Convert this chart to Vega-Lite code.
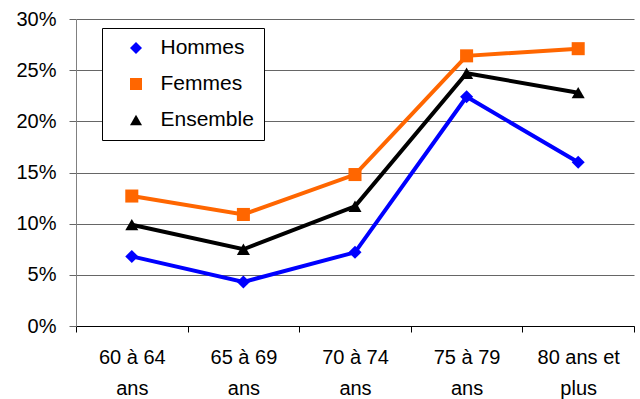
{
  "$schema": "https://vega.github.io/schema/vega-lite/v6.json",
  "width": 558,
  "height": 307,
  "autosize": {"type": "none"},
  "padding": {"left": 76, "top": 19, "right": 6, "bottom": 73},
  "background": "white",
  "config": {
    "view": {"stroke": null},
    "font": "Liberation Sans"
  },
  "data": {
    "values": [
      {"age": "60 à 64 ans", "serie": "Hommes", "taux": 0.068},
      {"age": "65 à 69 ans", "serie": "Hommes", "taux": 0.043},
      {"age": "70 à 74 ans", "serie": "Hommes", "taux": 0.072},
      {"age": "75 à 79 ans", "serie": "Hommes", "taux": 0.224},
      {"age": "80 ans et plus", "serie": "Hommes", "taux": 0.160},
      {"age": "60 à 64 ans", "serie": "Femmes", "taux": 0.127},
      {"age": "65 à 69 ans", "serie": "Femmes", "taux": 0.109},
      {"age": "70 à 74 ans", "serie": "Femmes", "taux": 0.148},
      {"age": "75 à 79 ans", "serie": "Femmes", "taux": 0.264},
      {"age": "80 ans et plus", "serie": "Femmes", "taux": 0.271},
      {"age": "60 à 64 ans", "serie": "Ensemble", "taux": 0.099},
      {"age": "65 à 69 ans", "serie": "Ensemble", "taux": 0.075},
      {"age": "70 à 74 ans", "serie": "Ensemble", "taux": 0.117},
      {"age": "75 à 79 ans", "serie": "Ensemble", "taux": 0.247},
      {"age": "80 ans et plus", "serie": "Ensemble", "taux": 0.228}
    ]
  },
  "encoding": {
    "x": {
      "field": "age",
      "type": "nominal",
      "sort": ["60 à 64 ans", "65 à 69 ans", "70 à 74 ans", "75 à 79 ans", "80 ans et plus"],
      "scale": {"type": "band", "paddingInner": 0, "paddingOuter": 0},
      "axis": {
        "title": null,
        "labelAngle": 0,
        "labelFontSize": 20,
        "labelColor": "black",
        "labelExpr": "isString(datum.value) ? (datum.value == '80 ans et plus' ? ['80 ans et', 'plus'] : [substring(datum.value, 0, 7), 'ans']) : ''",
        "labelLineHeight": 31,
        "labelBaseline": "top",
        "labelPadding": 15,
        "tickBand": "extent",
        "tickSize": 6,
        "tickColor": "black",
        "domainColor": "black",
        "grid": false
      }
    },
    "y": {
      "field": "taux",
      "type": "quantitative",
      "scale": {"domain": [0, 0.3], "nice": false},
      "axis": {
        "title": null,
        "values": [0, 0.05, 0.1, 0.15, 0.2, 0.25, 0.3],
        "format": ".0%",
        "labelFontSize": 20,
        "labelColor": "black",
        "labelPadding": 13,
        "tickSize": 7,
        "tickColor": "#666666",
        "domainColor": "#808080",
        "grid": true,
        "gridColor": "#666666",
        "gridOpacity": 1
      }
    },
    "color": {
      "field": "serie",
      "type": "nominal",
      "scale": {"domain": ["Hommes", "Femmes", "Ensemble"], "range": ["#0000FF", "#FF6600", "#000000"]},
      "legend": {
        "title": null,
        "orient": "none",
        "legendX": 26,
        "legendY": 9,
        "fillColor": "white",
        "strokeColor": "black",
        "padding": 9.5,
        "rowPadding": 14,
        "symbolSize": 144,
        "symbolOffset": 14,
        "labelOffset": 14,
        "labelFontSize": 21,
        "labelColor": "black",
        "encode": {
          "symbols": {
            "update": {
              "fill": {"signal": "scale('color', datum.value)"},
              "fillOpacity": {"value": 1},
              "opacity": {"value": 1},
              "strokeWidth": {"value": 0}
            }
          }
        }
      }
    }
  },
  "layer": [
    {
      "mark": {"type": "line", "strokeWidth": 4}
    },
    {
      "mark": {"type": "point", "filled": true, "opacity": 1, "size": 170},
      "encoding": {
        "shape": {
          "field": "serie",
          "type": "nominal",
          "scale": {"domain": ["Hommes", "Femmes", "Ensemble"], "range": ["diamond", "square", "triangle-up"]},
          "legend": null
        }
      }
    }
  ]
}
